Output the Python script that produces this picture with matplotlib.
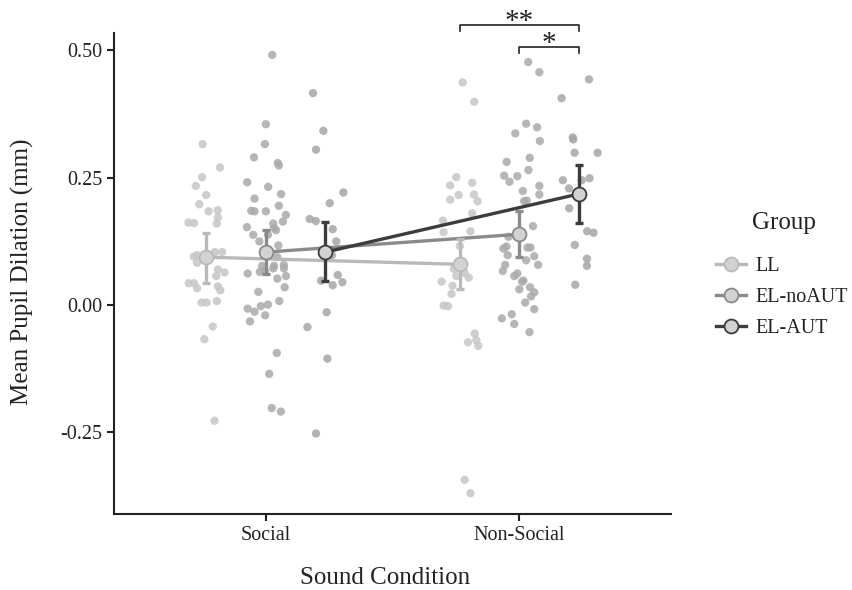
import matplotlib
matplotlib.use("Agg")
import matplotlib.pyplot as plt
from matplotlib.lines import Line2D

plt.rcParams['font.family'] = ['Liberation Serif', 'DejaVu Serif']

conditions = ['Social', 'Non-Social']
groups = ['LL', 'EL-noAUT', 'EL-AUT']

# group means and error bar limits (per condition: Social, Non-Social)
means = {'LL': [0.094, 0.080], 'EL-noAUT': [0.104, 0.139], 'EL-AUT': [0.104, 0.218]}
err_lo = {'LL': [0.044, 0.031], 'EL-noAUT': [0.061, 0.095], 'EL-AUT': [0.047, 0.162]}
err_hi = {'LL': [0.142, 0.129], 'EL-noAUT': [0.147, 0.185], 'EL-AUT': [0.163, 0.275]}

# individual participants: (jitter, value)
ll_social = [(-0.015, 0.316), (0.054, 0.270), (-0.017, 0.251), (-0.042, 0.234), (-0.001, 0.216),
             (-0.028, 0.198), (0.009, 0.184), (0.045, 0.186), (0.045, 0.172), (-0.071, 0.162),
             (-0.049, 0.161), (0.041, 0.160), (-0.050, 0.095), (-0.037, 0.098), (0.034, 0.104),
             (0.062, 0.104), (-0.037, 0.083), (0.045, 0.070), (0.072, 0.064), (0.039, 0.057),
             (-0.070, 0.043), (-0.049, 0.043), (-0.037, 0.033), (0.045, 0.037), (0.055, 0.029),
             (-0.019, 0.005), (0.001, 0.005), (0.041, 0.008), (0.025, -0.042), (-0.008, -0.067),
             (0.032, -0.227)]
noaut_social = [(0.025, 0.491), (0.000, 0.355), (-0.004, 0.316), (-0.047, 0.290), (0.047, 0.279),
                (0.051, 0.274), (-0.074, 0.241), (0.009, 0.232), (0.060, 0.218), (-0.045, 0.209),
                (0.051, 0.195), (-0.058, 0.185), (-0.045, 0.184), (0.000, 0.184), (0.079, 0.177),
                (0.067, 0.164), (0.029, 0.160), (-0.075, 0.153), (0.032, 0.151), (0.040, 0.147),
                (-0.050, 0.138), (0.008, 0.138), (-0.026, 0.125), (0.049, 0.117), (0.045, 0.094),
                (-0.015, 0.077), (-0.004, 0.067), (-0.024, 0.065), (0.032, 0.077), (0.029, 0.072),
                (0.071, 0.079), (0.071, 0.072), (-0.072, 0.062), (0.045, 0.052), (0.079, 0.057),
                (0.074, 0.035), (-0.030, 0.026), (0.053, 0.008), (-0.072, -0.007), (-0.045, -0.013),
                (-0.020, -0.002), (0.008, 0.001), (-0.003, -0.020), (-0.063, -0.032), (0.043, -0.094),
                (0.013, -0.135), (0.023, -0.202), (0.059, -0.209)]
aut_social = [(-0.049, 0.416), (-0.008, 0.342), (-0.037, 0.305), (0.071, 0.221), (0.017, 0.200),
              (-0.062, 0.169), (-0.038, 0.165), (0.029, 0.149), (0.043, 0.125), (0.026, 0.098),
              (-0.017, 0.048), (0.029, 0.039), (0.049, 0.059), (0.067, 0.045), (0.005, -0.014),
              (-0.071, -0.043), (0.008, -0.105), (-0.037, -0.252)]
ll_nonsocial = [(0.012, 0.437), (0.058, 0.399), (-0.013, 0.251), (-0.037, 0.235), (0.050, 0.240),
                (-0.004, 0.216), (-0.037, 0.207), (0.057, 0.217), (0.071, 0.204), (0.050, 0.180),
                (-0.066, 0.166), (-0.063, 0.143), (0.043, 0.145), (0.001, 0.116), (-0.023, 0.071),
                (-0.013, 0.057), (0.020, 0.063), (0.036, 0.054), (-0.071, 0.046), (-0.028, 0.038),
                (-0.032, 0.022), (-0.063, -0.001), (-0.046, -0.002), (0.060, -0.056), (0.066, -0.069),
                (0.033, -0.073), (0.074, -0.080), (0.020, -0.343), (0.043, -0.369)]
noaut_nonsocial = [(0.036, 0.477), (0.080, 0.457), (0.028, 0.356), (0.071, 0.349), (-0.015, 0.337),
                   (0.082, 0.322), (0.042, 0.289), (-0.049, 0.281), (0.037, 0.265), (-0.059, 0.254),
                   (-0.038, 0.242), (-0.007, 0.253), (0.080, 0.234), (0.015, 0.224), (0.080, 0.217),
                   (0.020, 0.204), (0.030, 0.205), (0.055, 0.155), (-0.042, 0.134), (-0.062, 0.111),
                   (-0.050, 0.115), (-0.045, 0.098), (0.033, 0.113), (0.045, 0.113), (0.060, 0.096),
                   (0.028, 0.088), (0.075, 0.079), (-0.055, 0.079), (-0.064, 0.067), (-0.007, 0.062),
                   (-0.019, 0.057), (0.017, 0.048), (0.012, 0.046), (0.043, 0.035), (0.060, 0.025),
                   (0.047, 0.017), (0.001, 0.031), (0.024, 0.005), (0.060, -0.008), (-0.029, -0.018),
                   (-0.068, -0.026), (-0.019, -0.037), (0.041, -0.053)]
aut_nonsocial = [(0.041, 0.443), (-0.067, 0.406), (-0.023, 0.329), (-0.021, 0.325), (-0.016, 0.299),
                 (0.075, 0.299), (-0.062, 0.245), (-0.038, 0.229), (0.043, 0.249), (0.012, 0.245),
                 (-0.037, 0.190), (0.034, 0.145), (0.059, 0.142), (-0.015, 0.118), (0.033, 0.091),
                 (0.033, 0.077), (-0.013, 0.040)]

points = {'LL': [ll_social, ll_nonsocial],
          'EL-noAUT': [noaut_social, noaut_nonsocial],
          'EL-AUT': [aut_social, aut_nonsocial]}

line_cols = {'LL': '#b9b9b9', 'EL-noAUT': '#8a8a8a', 'EL-AUT': '#3c3c3c'}
pt_cols = {'LL': '#c6c6c6', 'EL-noAUT': '#aaaaaa', 'EL-AUT': '#a6a6a6'}
dodge = {'LL': -0.235, 'EL-noAUT': 0.0, 'EL-AUT': 0.235}

fig = plt.figure(figsize=(8.53, 5.90), dpi=100)
ax = fig.add_axes([114 / 853, 1 - 514 / 590, (671 - 114) / 853, (514 - 33) / 590])

for g in groups:
    for i, pts in enumerate(points[g]):
        xs = [i + 1 + dodge[g] + p[0] for p in pts]
        ys = [p[1] for p in pts]
        ax.scatter(xs, ys, s=36, color=pt_cols[g], alpha=0.85, edgecolors='none', zorder=2)

for g in groups:
    xs = [1 + dodge[g], 2 + dodge[g]]
    ax.plot(xs, means[g], color=line_cols[g], lw=2.4, zorder=3)
    ax.vlines(xs, err_lo[g], err_hi[g], color=line_cols[g], lw=2.4, zorder=4)
    for x, lo, hi in zip(xs, err_lo[g], err_hi[g]):
        ax.hlines([lo, hi], x - 0.016, x + 0.016, color=line_cols[g], lw=2.4, zorder=4)
    ax.plot(xs, means[g], 'o', ms=10, mfc='#d2d2d2', mec=line_cols[g], mew=1.3, zorder=5)

# significance brackets
brackets = [(2 + dodge['LL'], 2 + dodge['EL-AUT'], 0.549, '**'),
            (2 + dodge['EL-noAUT'], 2 + dodge['EL-AUT'], 0.506, '*')]
for x0, x1, y, lab in brackets:
    ax.plot([x0, x0, x1, x1], [y - 0.012, y, y, y - 0.012], color='#222222', lw=1.2,
            clip_on=False, zorder=6)
    ax.text((x0 + x1) / 2, y - 0.008, lab, ha='center', va='baseline', fontsize=21,
            color='#222222', clip_on=False)

ax.set_xlim(0.4, 2.6)
ax.set_ylim(-0.41, 0.534)
ax.set_xticks([1, 2])
ax.set_xticklabels(conditions)
ax.set_yticks([-0.25, 0, 0.25, 0.5])
ax.set_yticklabels(['-0.25', '0.00', '0.25', '0.50'])
for s in ['top', 'right']:
    ax.spines[s].set_visible(False)
for s in ['left', 'bottom']:
    ax.spines[s].set_linewidth(1.5)
    ax.spines[s].set_color('#222222')
ax.tick_params(length=5, width=1.5, color='#222222', labelsize=14.5, labelcolor='#222222')

fig.text(385 / 853, 1 - 578 / 590, 'Sound Condition', ha='center', va='center', fontsize=18,
         color='#222222')
fig.text(22 / 853, 1 - 272 / 590, 'Mean Pupil Dilation (mm)', ha='center', va='center',
         rotation=90, fontsize=18, color='#222222')

handles = [Line2D([], [], color=line_cols[g], lw=2.4, marker='o', ms=10, mfc='#d2d2d2',
                  mec=line_cols[g], mew=1.3) for g in groups]
leg = fig.legend(handles, groups, loc='upper left', bbox_to_anchor=(698 / 853, 1 - 239 / 590),
                 frameon=False, fontsize=14.5, handlelength=1.5, handletextpad=0.45,
                 labelspacing=0.58)
for t in leg.get_texts():
    t.set_color('#222222')
fig.text(752 / 853, 1 - 223 / 590, 'Group', ha='left', va='center', fontsize=18, color='#222222')

fig.savefig('out.png', dpi=100)
